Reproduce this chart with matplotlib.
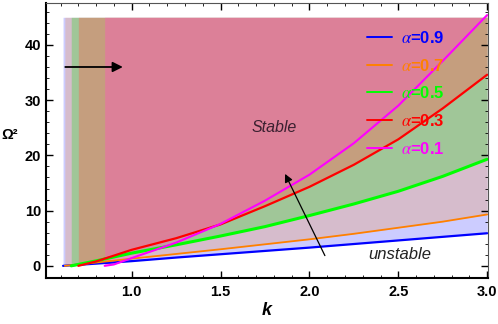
import numpy as np
import matplotlib
matplotlib.use('Agg')
import matplotlib.pyplot as plt

plt.rcParams['font.family'] = ['Liberation Sans', 'DejaVu Sans']
plt.rcParams['mathtext.fontset'] = 'stix'

# curves: k values and Omega^2 for each alpha
blue_k = [0.614, 0.8, 1.0, 1.25, 1.5, 1.75, 2.0, 2.25, 2.5, 2.75, 3.0]
blue_w = [0, 0.4, 0.85, 1.5, 2.1, 2.7, 3.3, 3.95, 4.6, 5.25, 5.9]
orange_k = [0.624, 0.8, 1.0, 1.25, 1.5, 1.75, 2.0, 2.25, 2.5, 2.75, 3.0]
orange_w = [0, 0.6, 1.3, 2.15, 3.0, 3.9, 4.8, 5.8, 6.9, 8.0, 9.3]
green_k = [0.66, 0.8, 1.0, 1.25, 1.5, 1.75, 2.0, 2.25, 2.5, 2.75, 3.0]
green_w = [0, 0.9, 2.3, 3.8, 5.4, 7.1, 9.1, 11.2, 13.5, 16.2, 19.3]
red_k = [0.70, 0.8, 1.0, 1.25, 1.5, 1.75, 2.0, 2.25, 2.5, 2.75, 3.0]
red_w = [0, 0.8, 2.9, 5.0, 7.5, 10.8, 14.3, 18.3, 22.9, 28.5, 34.6]
mag_k = [0.848, 0.9, 1.0, 1.25, 1.5, 1.75, 2.0, 2.25, 2.5, 2.75, 3.0]
mag_w = [0, 0.25, 1.4, 4.2, 7.6, 11.8, 16.5, 22.2, 29.0, 37.1, 45.4]

alphas = ['0.9', '0.7', '0.5', '0.3', '0.1']
colors = ['#0000ff', '#ff8000', '#00ff00', '#ff0000', '#ff00ff']
# translucent fills above each curve, stacked up to the top
fill_colors = ['#0000ff', '#ff8000', '#00e600', '#fe6459', '#ff55c0']
fill_alpha = [0.2, 0.2, 0.25, 0.4, 0.4]
widths = [1.6, 1.3, 2.2, 1.6, 1.5]
fill_top = 45

curves = [(blue_k, blue_w), (orange_k, orange_w), (green_k, green_w),
          (red_k, red_w), (mag_k, mag_w)]

fig = plt.figure(figsize=(4.98, 3.24), dpi=100)
ax = fig.add_axes([0.092, 0.142, 0.888, 0.849])

for (k, w), c, a in zip(curves, fill_colors, fill_alpha):
    ax.fill_between(k, w, fill_top, color=c, alpha=a, lw=0)

for (k, w), c, lw, a in zip(curves, colors, widths, alphas):
    ax.plot(k, w, color=c, lw=lw, label=r'$\alpha$=' + a, solid_capstyle='round')

ax.set_xlim(0.517, 3.005)
ax.set_ylim(-2.2, 47.6)
ax.set_xticks([1.0, 1.5, 2.0, 2.5, 3.0])
ax.set_yticks([0, 10, 20, 30, 40])
ax.set_xticks(np.arange(0.6, 3.01, 0.1), minor=True)
ax.set_yticks(np.arange(-2, 47, 2), minor=True)
ax.tick_params(which='both', direction='in', top=True, right=True)
ax.tick_params(which='major', length=5, width=1.0, labelsize=10.5)
ax.tick_params(axis='x', which='major', pad=5)
ax.tick_params(axis='y', which='major', pad=3.5)
ax.tick_params(which='minor', length=2.5, width=0.6)
for lab in ax.get_xticklabels() + ax.get_yticklabels():
    lab.set_fontweight('bold')
for s in ['left', 'bottom']:
    ax.spines[s].set_linewidth(1.5)
for s in ['top', 'right']:
    ax.spines[s].set_linewidth(0.8)
    ax.spines[s].set_color('#555555')

ax.set_xlabel('k', fontsize=13, fontweight='bold', style='italic', labelpad=2)
ax.set_ylabel('Ω²', fontsize=10.5, fontweight='bold', rotation=0)
ax.yaxis.set_label_coords(-0.081, 0.495)

leg = ax.legend(loc='upper left', bbox_to_anchor=(0.726, 0.902), frameon=False,
                fontsize=12, labelcolor='linecolor', handlelength=1.5,
                handletextpad=0.55, labelspacing=0.7, borderpad=0,
                borderaxespad=0)
for t in leg.get_texts():
    t.set_fontweight('bold')
for h in leg.get_lines():
    h.set_linewidth(1.4)

ax.annotate('', xy=(0.966, 36), xytext=(0.611, 36),
            arrowprops=dict(arrowstyle='-|>', color='k', lw=1.3, mutation_scale=15))
ax.annotate('', xy=(1.856, 17.1), xytext=(2.094, 1.4),
            arrowprops=dict(arrowstyle='-|>', color='k', lw=0.9, mutation_scale=12))
ax.text(1.80, 25.1, 'Stable', style='italic', fontsize=11.5, color='#3a2030',
        ha='center', va='center')
ax.text(2.51, 2.1, 'unstable', style='italic', fontsize=12, color='#222222',
        ha='center', va='center')

fig.savefig('out.png', dpi=100)
